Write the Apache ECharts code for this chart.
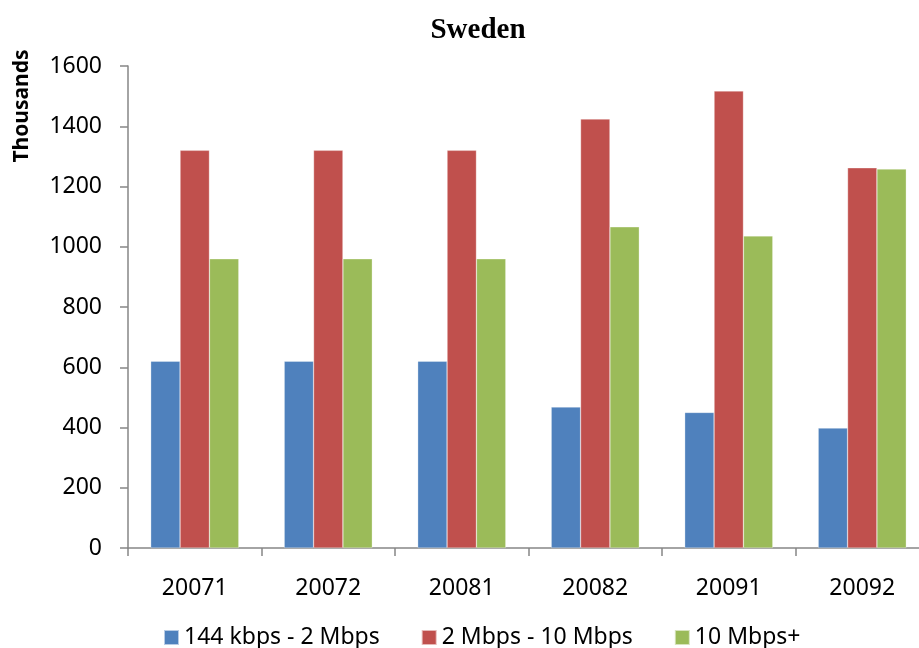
<!DOCTYPE html>
<html>
<head>
<meta charset="utf-8">
<script src="https://cdn.jsdelivr.net/npm/echarts@6/dist/echarts.min.js"></script>
<style>
  html, body { margin: 0; padding: 0; background: #fff; overflow: hidden; }
  #chart { width: 932px; height: 648px; }
</style>
</head>
<body>
<div id="chart"></div>
<script>
const periods = ['20071', '20072', '20081', '20082', '20091', '20092']
const low = [620, 620, 620, 468, 450, 398]
const mid = [1320, 1320, 1320, 1424, 1517, 1262]
const high = [960, 960, 960, 1066, 1036, 1258]
const seriesNames = ['144 kbps - 2 Mbps', '2 Mbps - 10 Mbps', '10 Mbps+']

let myChart = echarts.init(document.getElementById('chart'))

const font = '"Noto Sans", "Open Sans", sans-serif'
const axisGray = '#868686'

function bar(name, data, color) {
  return {
    name: name,
    type: 'bar',
    data: data,
    barGap: '0%',
    barCategoryGap: '34%',
    itemStyle: { color: color, borderColor: 'rgba(255,255,255,0.6)', borderWidth: 0.5 },
  }
}

myChart.setOption({
  animation: false,
  title: {
    text: 'Sweden',
    left: 473,
    top: 11,
    textAlign: 'center',
    textStyle: { fontFamily: '"Liberation Serif", "Times New Roman", serif', fontWeight: 'bold', fontSize: 29, color: '#000' },
  },
  graphic: [
    {
      type: 'text',
      x: 22,
      y: 106,
      rotation: Math.PI / 2,
      style: {
        text: 'Thousands',
        fontFamily: font,
        fontWeight: 'bold',
        fontSize: 21,
        fill: '#000',
        align: 'center',
        verticalAlign: 'middle',
      },
    },
  ],
  legend: {
    data: seriesNames,
    left: 158,
    top: 621,
    itemWidth: 15,
    itemHeight: 15,
    itemGap: 41,
    icon: 'rect',
    textStyle: { fontFamily: font, fontSize: 23, color: '#000' },
  },
  grid: {
    left: 128,
    top: 66,
    width: 801,
    height: 482,
    containLabel: false,
  },
  xAxis: {
    type: 'category',
    data: periods,
    axisLine: { lineStyle: { color: axisGray, width: 1.5 } },
    axisTick: { show: true, length: 8, inside: false, lineStyle: { color: axisGray, width: 1.5 } },
    axisLabel: { fontFamily: font, fontSize: 23, color: '#000', margin: 29 },
  },
  yAxis: {
    type: 'value',
    min: 0,
    max: 1600,
    interval: 200,
    axisLine: { show: true, lineStyle: { color: axisGray, width: 1.5 } },
    axisTick: { show: true, length: 8, lineStyle: { color: axisGray, width: 1.5 } },
    splitLine: { show: false },
    axisLabel: { fontFamily: font, fontSize: 23, color: '#000', margin: 26, formatter: (v) => String(v) },
  },
  series: [
    bar(seriesNames[0], low, '#4F81BD'),
    bar(seriesNames[1], mid, '#C0504D'),
    bar(seriesNames[2], high, '#9BBB59'),
  ],
})
</script>
</body>
</html>
